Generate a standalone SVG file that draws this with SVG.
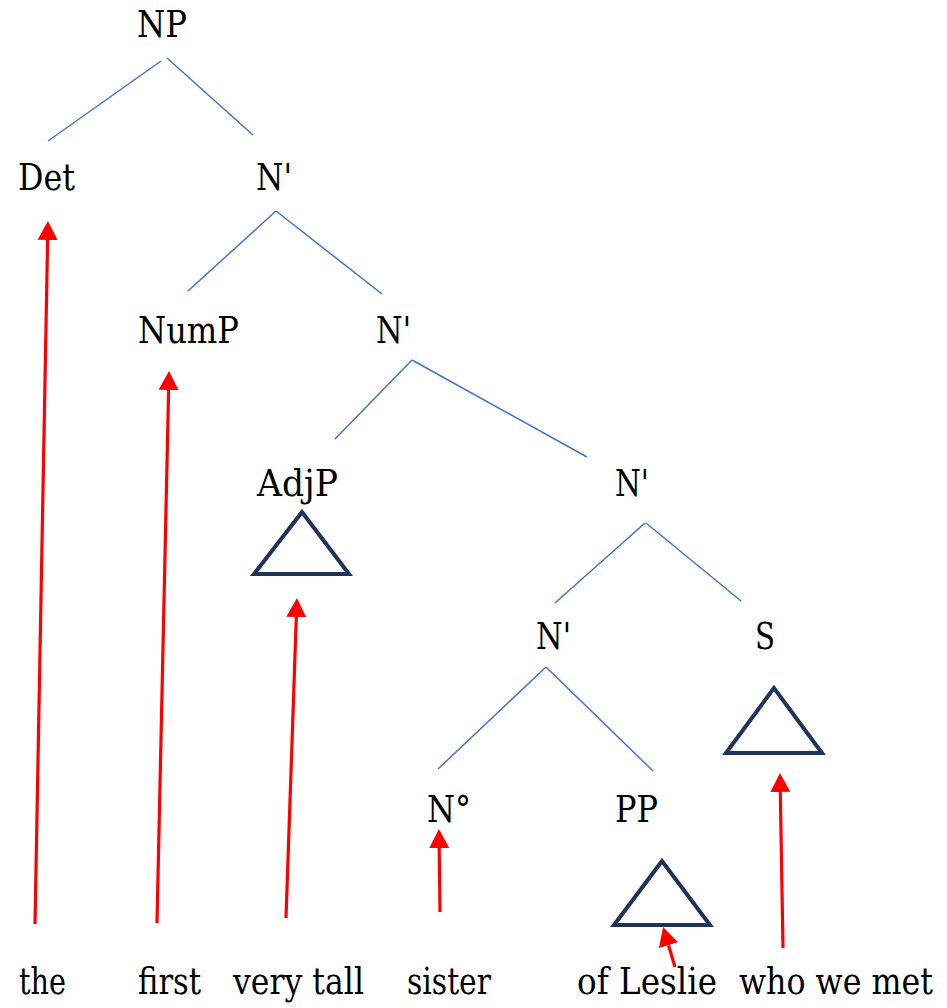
<svg xmlns="http://www.w3.org/2000/svg" width="947" height="1008" viewBox="0 0 947 1008">
<style>
text{font-family:'DejaVu Serif','Liberation Serif',serif;font-size:37px;fill:#000}
.edge{stroke:#4472C4;stroke-width:1.5;fill:none}
.arr{stroke:#FF0000;stroke-width:3.2;fill:none;marker-end:url(#ah)}
.tri{stroke:#1F3257;stroke-width:4;fill:none;stroke-linejoin:miter}
</style>
<defs>
<marker id="ah" markerUnits="userSpaceOnUse" markerWidth="20" markerHeight="21" refX="0" refY="10" orient="auto" viewBox="0 0 20 20">
<path d="M0,0 L19,10 L0,20 Z" fill="#FF0000"/>
</marker>
</defs>
<rect width="947" height="1008" fill="#fff"/>
<g id="connectors">
<line class="edge" x1="161" y1="61" x2="48" y2="141"/>
<line class="edge" x1="167" y1="58" x2="253" y2="135"/>
<line class="edge" x1="276" y1="211" x2="188" y2="291"/>
<line class="edge" x1="276" y1="211" x2="382" y2="294"/>
<line class="edge" x1="412" y1="360" x2="335" y2="439"/>
<line class="edge" x1="412" y1="360" x2="587" y2="457"/>
<line class="edge" x1="645" y1="523" x2="555" y2="603"/>
<line class="edge" x1="646" y1="523" x2="741" y2="601"/>
<line class="edge" x1="546" y1="667" x2="438" y2="769"/>
<line class="edge" x1="546" y1="667" x2="653" y2="771"/>
<line class="arr" x1="35" y1="924" x2="47.6" y2="240"/>
<line class="arr" x1="157" y1="923" x2="168.6" y2="390"/>
<line class="arr" x1="286" y1="918" x2="296.3" y2="617"/>
<line class="arr" x1="440" y1="912" x2="439.2" y2="848"/>
<line class="arr" x1="675" y1="967" x2="668.5" y2="945.2"/>
<line class="arr" x1="783" y1="948" x2="780.3" y2="792"/>
</g>
<g id="np"><text x="137" y="37" textLength="50" lengthAdjust="spacingAndGlyphs">NP</text></g>
<g id="det"><text x="18" y="190" textLength="57" lengthAdjust="spacingAndGlyphs">Det</text></g>
<g id="nbar1"><text x="256" y="190" textLength="36" lengthAdjust="spacingAndGlyphs">N'</text></g>
<g id="nump"><text x="138" y="343" textLength="101" lengthAdjust="spacingAndGlyphs">NumP</text></g>
<g id="nbar2"><text x="376" y="343" textLength="35" lengthAdjust="spacingAndGlyphs">N'</text></g>
<g id="adjp"><text x="257" y="496" textLength="81" lengthAdjust="spacingAndGlyphs">AdjP</text><polygon class="tri" points="302,512 254,574 349,574"/></g>
<g id="nbar3"><text x="615" y="496" textLength="34" lengthAdjust="spacingAndGlyphs">N'</text></g>
<g id="nbar4"><text x="536" y="649" textLength="35" lengthAdjust="spacingAndGlyphs">N'</text></g>
<g id="s"><text x="755" y="649" textLength="20" lengthAdjust="spacingAndGlyphs">S</text><polygon class="tri" points="774,688 726,753 822,753"/></g>
<g id="n0"><text x="427" y="822" textLength="44" lengthAdjust="spacingAndGlyphs">N°</text></g>
<g id="pp"><text x="615" y="822" textLength="43" lengthAdjust="spacingAndGlyphs">PP</text><polygon class="tri" points="662,861 614,925 710,925"/></g>
<g id="w-the"><text x="19" y="994" textLength="47" lengthAdjust="spacingAndGlyphs">the</text></g>
<g id="w-first"><text x="138" y="994" textLength="63" lengthAdjust="spacingAndGlyphs">first</text></g>
<g id="w-verytall"><text x="233" y="994" textLength="131" lengthAdjust="spacingAndGlyphs">very tall</text></g>
<g id="w-sister"><text x="407" y="994" textLength="84" lengthAdjust="spacingAndGlyphs">sister</text></g>
<g id="w-ofleslie"><text x="577" y="994" textLength="140" lengthAdjust="spacingAndGlyphs">of Leslie</text></g>
<g id="w-whowemet"><text x="933" y="994" text-anchor="end" textLength="194" lengthAdjust="spacingAndGlyphs">who we met</text></g>
</svg>
